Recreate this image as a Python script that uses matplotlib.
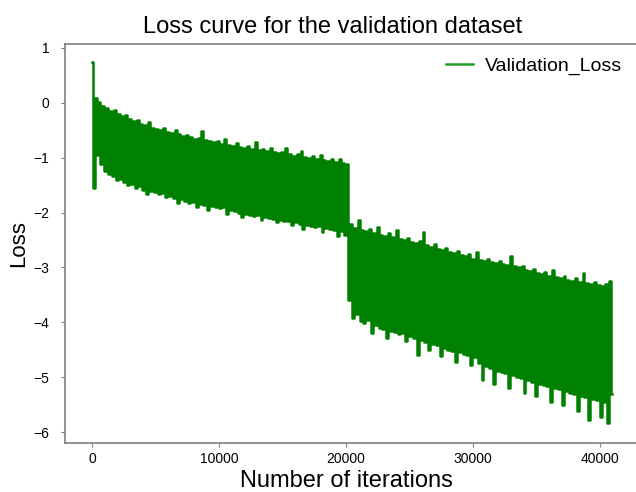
import matplotlib
matplotlib.use("Agg")
import matplotlib.pyplot as plt

plt.rcParams['font.family'] = ['Liberation Sans', 'DejaVu Sans']

upper_iters = list(range(0, 40801, 300))
upper_loss = [
    0.75, 0.08, 0.02, -0.05, -0.10, -0.14, -0.13, -0.20, -0.24, -0.22,
    -0.30, -0.33, -0.31, -0.38, -0.40, -0.34, -0.45, -0.47, -0.49, -0.46,
    -0.53, -0.55, -0.50, -0.57, -0.60, -0.58, -0.62, -0.66, -0.64, -0.52,
    -0.68, -0.70, -0.72, -0.69, -0.75, -0.66, -0.76, -0.78, -0.74, -0.80,
    -0.82, -0.79, -0.84, -0.72, -0.86, -0.85, -0.88, -0.83, -0.90, -0.92,
    -0.89, -0.82, -0.94, -0.96, -0.93, -0.88, -0.98, -1.00, -0.97, -1.02,
    -0.95, -1.04, -1.06, -1.03, -1.08, -1.02, -1.10, -1.12,
    -2.20, -2.28, -2.14, -2.32, -2.34, -2.30, -2.38, -2.26, -2.40, -2.42,
    -2.38, -2.45, -2.32, -2.48, -2.50, -2.46, -2.54, -2.56, -2.52, -2.36,
    -2.60, -2.62, -2.58, -2.66, -2.68, -2.64, -2.72, -2.74, -2.70, -2.78,
    -2.80, -2.76, -2.84, -2.72, -2.86, -2.88, -2.85, -2.90, -2.92, -2.89,
    -2.94, -2.96, -2.80, -2.98, -3.00, -2.97, -3.04, -3.06, -3.02, -3.10,
    -3.12, -3.08, -3.16, -3.05, -3.18, -3.20, -3.16, -3.22, -3.24, -3.20,
    -3.26, -3.10, -3.28, -3.30, -3.26, -3.32, -3.34, -3.30, -3.24,
]

lower_iters = list(range(150, 40951, 300))
lower_loss = [
    -1.55, -0.95, -1.12, -1.25, -1.30, -1.34, -1.40, -1.38, -1.45, -1.50,
    -1.48, -1.55, -1.52, -1.58, -1.66, -1.60, -1.63, -1.66, -1.64, -1.72,
    -1.70, -1.74, -1.82, -1.76, -1.79, -1.82, -1.80, -1.90, -1.84, -1.86,
    -1.96, -1.88, -1.90, -1.92, -1.90, -2.02, -1.95, -1.97, -2.00, -2.08,
    -2.02, -2.04, -2.06, -2.04, -2.14, -2.08, -2.10, -2.12, -2.18, -2.14,
    -2.16, -2.15, -2.22, -2.18, -2.20, -2.30, -2.22, -2.24, -2.26, -2.24,
    -2.36, -2.28, -2.30, -2.32, -2.42, -2.34, -2.40,
    -3.60, -3.92, -3.85, -3.98, -4.02, -3.95, -4.20, -4.05, -4.10, -4.12,
    -4.28, -4.15, -4.18, -4.22, -4.20, -4.34, -4.25, -4.28, -4.60, -4.32,
    -4.36, -4.50, -4.40, -4.42, -4.62, -4.46, -4.50, -4.52, -4.72, -4.55,
    -4.58, -4.60, -4.78, -4.64, -4.75, -5.05, -4.80, -4.84, -5.12, -4.88,
    -4.90, -4.92, -5.20, -4.96, -5.00, -5.02, -5.28, -5.06, -5.08, -5.35,
    -5.12, -5.14, -5.16, -5.45, -5.20, -5.22, -5.50, -5.26, -5.28, -5.30,
    -5.62, -5.34, -5.36, -5.78, -5.40, -5.42, -5.72, -5.45, -5.84, -5.30,
]

# zip peaks and troughs back into one oscillating series
iters = []
loss = []
for xu, yu, xl, yl in zip(upper_iters, upper_loss, lower_iters, lower_loss):
    iters += [xu, xl]
    loss += [yu, yl]

fig = plt.figure(figsize=(6.36, 4.92), dpi=100)
ax = fig.add_axes([0.102, 0.0996, 0.91, 0.811])

ax.plot(iters, loss, color='green', linewidth=1.8, drawstyle='steps-mid',
        label='Validation_Loss')

ax.set_xlim(-2126, 43430)
ax.set_ylim(-6.2, 1.073)
ax.set_xticks([0, 10000, 20000, 30000, 40000])
ax.set_yticks([1, 0, -1, -2, -3, -4, -5, -6])

for s in ax.spines.values():
    s.set_color('#808080')
    s.set_linewidth(1.2)
ax.tick_params(colors='#808080', labelcolor='black', labelsize=10, length=3)
ax.tick_params(axis='y', pad=8)

ax.set_title('Loss curve for the validation dataset', fontsize=17, pad=8, x=0.463)
ax.set_xlabel('Number of iterations', fontsize=17, labelpad=3, x=0.487)
ax.set_ylabel('Loss', fontsize=16, labelpad=3)

leg = ax.legend(loc='upper right', bbox_to_anchor=(0.993, 1.01), frameon=False,
                fontsize=14, handlelength=1.4, handletextpad=0.6)
leg.get_lines()[0].set_color('#22a022')

fig.savefig('out.png', dpi=100)
